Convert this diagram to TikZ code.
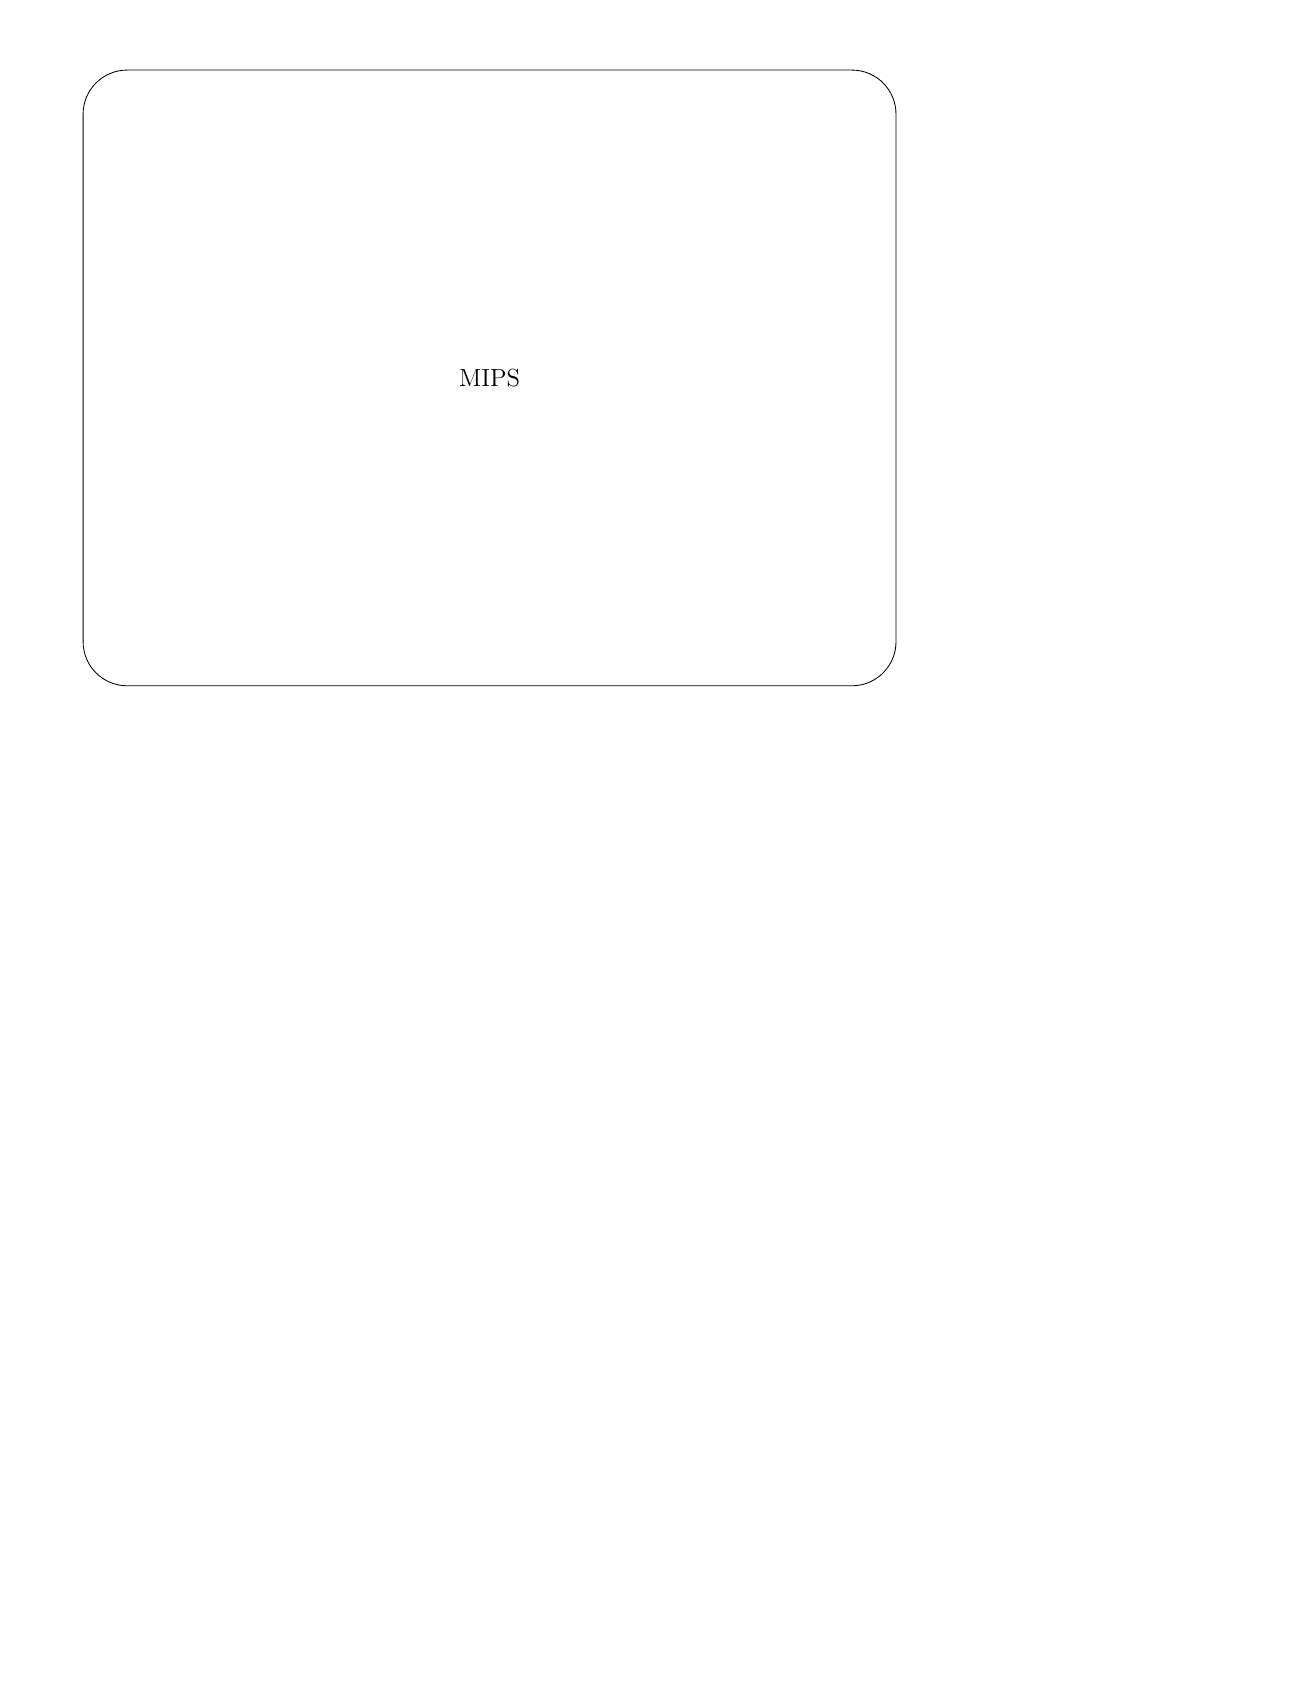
\documentclass[tikz,border=0pt]{standalone}
\tikzset{chipbox/.style={draw, rounded corners=20.6pt, minimum width=380.5pt, minimum height=288.2pt, font=\fontsize{11.6}{14}\selectfont}}
\begin{document}
\begin{tikzpicture}[x=1pt,y=1pt]
				\useasboundingbox (0,0) rectangle (612,-792);
				\node[chipbox](mips) at (229.15,-176.9){MIPS};
			\end{tikzpicture}
\end{document}
